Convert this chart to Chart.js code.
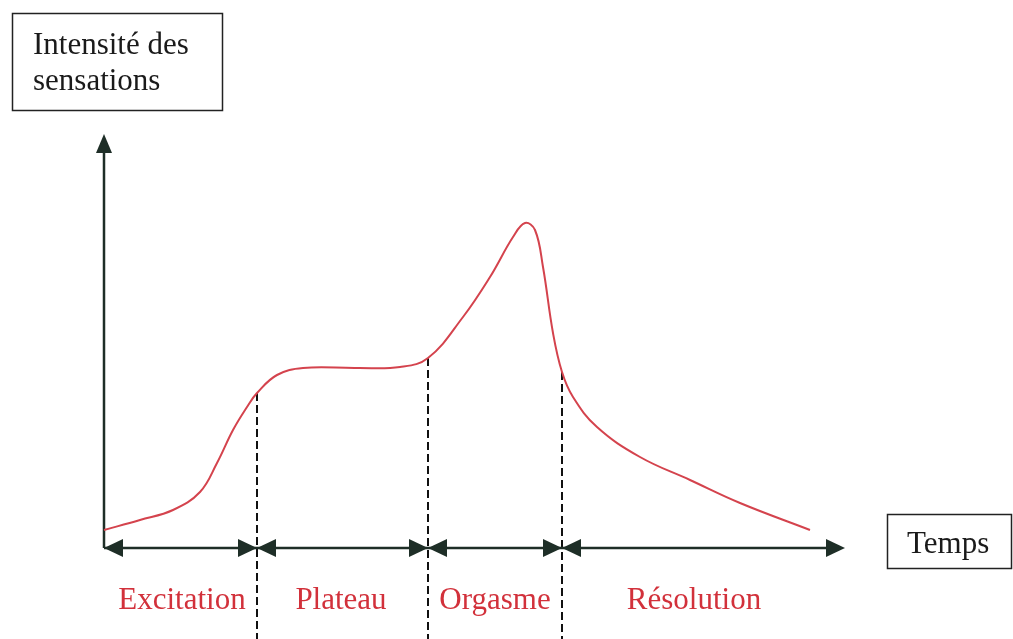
<!DOCTYPE html>
<html>
<head>
<meta charset="utf-8">
<script src="https://cdn.jsdelivr.net/npm/chart.js@4"></script>
<style>
  body { margin: 0; background: #fff; }
  #wrap { width: 1013px; height: 639px; position: relative; }
</style>
</head>
<body>
<div id="wrap"><canvas id="mycanvas"></canvas></div>
<script>
// curve (time, intensity)
var temps = [0, 3.6, 6.9, 9.6, 11.3, 12.9, 14.3, 15.3, 17.3, 19.9, 25.3, 29.6, 32.4, 35.9, 38.6, 40.9, 42.1, 43.1, 43.9, 44.9, 45.8, 46.9, 49.3, 53.6, 58.6, 63.6, 70.6];
var intensite = [1.8, 2.8, 3.8, 5.6, 8.5, 11.8, 14.1, 15.5, 17.3, 18.0, 18.0, 18.1, 19.0, 23.1, 27.1, 31.1, 32.5, 31.8, 28.1, 21.5, 17.6, 15.1, 12.1, 9.1, 6.8, 4.5, 1.8];

// phases
var phases = ['Excitation', 'Plateau', 'Orgasme', 'Résolution'];
var limites = [0, 15.3, 32.4, 45.8, 74.1];
var hautLimites = [15.5, 19.0, 17.6];
var centresPhases = [7.8, 23.7, 39.1, 59.0];

var axeY = 'Intensité des sensations';
var axeX = 'Temps';
var hautAxeY = 41.4;

var rouge = '#d2313b';
var fonce = '#1e2e27';
var police = '31px "Liberation Serif", "Times New Roman", serif';

var courbe = [];
for (var i in temps) {
	courbe.push({x: temps[i], y: intensite[i]});
}

var datasets = [
	{
		data: courbe,
		borderColor: '#d4434d',
		borderWidth: 2,
		pointRadius: 0,
		tension: 0.4,
		fill: false
	},
	{
		data: [{x: 0, y: 0}, {x: 0, y: hautAxeY - 1.5}],
		borderColor: fonce,
		borderWidth: 2.5,
		pointRadius: 0
	},
	{
		data: [{x: 0, y: 0}, {x: limites[limites.length - 1] - 1, y: 0}],
		borderColor: fonce,
		borderWidth: 2.5,
		pointRadius: 0
	}
];

for (var j = 0; j < hautLimites.length; j++) {
	datasets.push({
		data: [{x: limites[j + 1], y: hautLimites[j]}, {x: limites[j + 1], y: -9.1}],
		borderColor: '#111',
		borderWidth: 2,
		borderDash: [8, 4],
		pointRadius: 0
	});
}

function tri(ctx, pts) {
	ctx.beginPath();
	ctx.moveTo(pts[0], pts[1]);
	ctx.lineTo(pts[2], pts[3]);
	ctx.lineTo(pts[4], pts[5]);
	ctx.closePath();
	ctx.fill();
}

var decor = {
	id: 'decor',
	afterDatasetsDraw: function(chart) {
		var ctx = chart.ctx;
		var sx = chart.scales.x, sy = chart.scales.y;
		var y0 = sy.getPixelForValue(0);
		ctx.save();
		ctx.fillStyle = fonce;
		// arrows of the phases
		for (var k = 0; k < phases.length; k++) {
			var a = sx.getPixelForValue(limites[k]);
			var b = sx.getPixelForValue(limites[k + 1]);
			tri(ctx, [a, y0, a + 19, y0 - 9, a + 19, y0 + 9]);
			tri(ctx, [b, y0, b - 19, y0 - 9, b - 19, y0 + 9]);
		}
		// arrow of the y axis
		var xa = sx.getPixelForValue(0);
		var ya = sy.getPixelForValue(hautAxeY);
		tri(ctx, [xa, ya, xa - 8, ya + 19, xa + 8, ya + 19]);

		// phase names
		ctx.font = police;
		ctx.fillStyle = rouge;
		ctx.textAlign = 'center';
		ctx.textBaseline = 'alphabetic';
		for (var m = 0; m < phases.length; m++) {
			ctx.fillText(phases[m], sx.getPixelForValue(centresPhases[m]), 609);
		}

		// boxes
		ctx.strokeStyle = '#222';
		ctx.lineWidth = 1.5;
		ctx.fillStyle = '#1a1a1a';
		ctx.textAlign = 'left';
		ctx.strokeRect(12.5, 13.5, 210, 97);
		var mots = axeY.split(' ');
		ctx.fillText(mots[0] + ' ' + mots[1], 33, 54);
		ctx.fillText(mots[2], 33, 90);
		ctx.strokeRect(887.5, 514.5, 124, 54);
		ctx.fillText(axeX, 907, 553);
		ctx.restore();
	}
};

var ctx = document.getElementById('mycanvas');

var graph = new Chart(ctx, {
	type: 'line',
	data: { datasets: datasets },
	options: {
		responsive: true,
		maintainAspectRatio: false,
		animation: false,
		layout: { padding: 0 },
		plugins: {
			legend: { display: false },
			tooltip: { enabled: false }
		},
		scales: {
			x: { type: 'linear', min: -10.4, max: 90.9, display: false },
			y: { type: 'linear', min: -9.1, max: 54.8, display: false }
		}
	},
	plugins: [decor]
});
</script>
</body>
</html>
